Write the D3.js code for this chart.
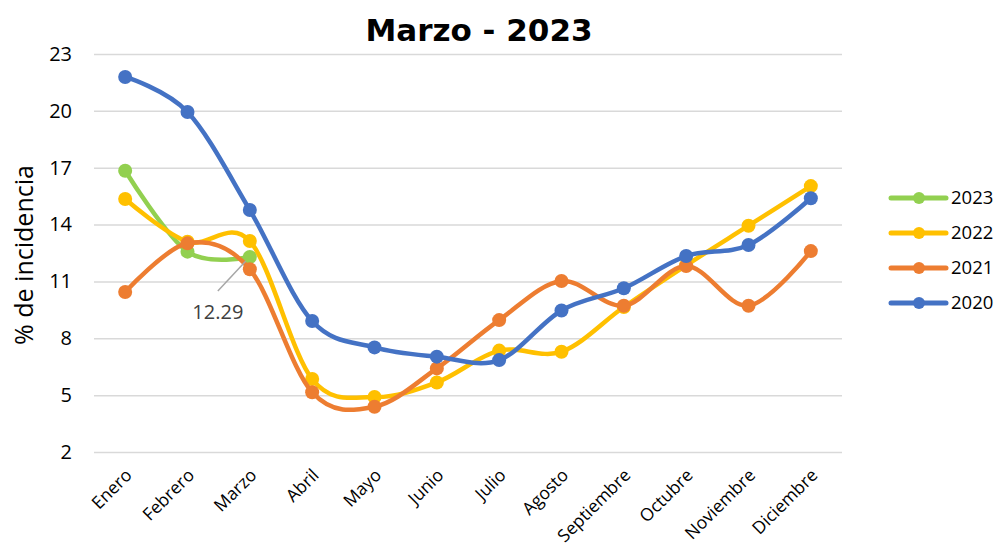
<!DOCTYPE html>
<html>
<head>
<meta charset="utf-8">
<script src="https://cdn.jsdelivr.net/npm/d3@7"></script>
<style>
  body { margin: 0; background: #fff; }
  svg { display: block; font-family: "Open Sans", sans-serif; }
</style>
</head>
<body>
<script>
// chart data
const months = ["Enero", "Febrero", "Marzo", "Abril", "Mayo", "Junio", "Julio",
  "Agosto", "Septiembre", "Octubre", "Noviembre", "Diciembre"];
const v2023 = [16.84, 12.57, 12.29];
const v2022 = [15.35, 13.10, 13.13, 5.85, 4.90, 5.67, 7.35, 7.29, 9.65, 11.85, 13.94, 16.03];
const v2021 = [10.44, 13.01, 11.64, 5.15, 4.39, 6.41, 8.96, 11.02, 9.72, 11.81, 9.72, 12.60];
const v2020 = [21.79, 19.94, 14.77, 8.91, 7.52, 7.03, 6.85, 9.47, 10.64, 12.34, 12.92, 15.39];
const yTicks = [2, 5, 8, 11, 14, 17, 20, 23];
const seriesNames = ["2023", "2022", "2021", "2020"];
const labelValue = 12.29;

// layout
const width = 995;
const height = 549;
const plotLeft = 94;
const plotRight = 842;
const plotTop = 54;
const plotBottom = 452;

const colors = {"2023": "#92D050", "2022": "#FFC000", "2021": "#ED7D31", "2020": "#4472C4"};
const values = {"2023": v2023, "2022": v2022, "2021": v2021, "2020": v2020};

const svg = d3.select("body").append("svg")
  .attr("width", width)
  .attr("height", height);

const xScale = d3.scalePoint().domain(months).range([plotLeft, plotRight]).padding(0.5);
const yScale = d3.scaleLinear().domain([2, 23]).range([plotBottom, plotTop]);

// gridlines + y tick labels
const yAxis = svg.append("g")
  .attr("transform", "translate(" + plotLeft + ",0)")
  .call(d3.axisLeft(yScale).tickValues(yTicks).tickSize(-(plotRight - plotLeft)).tickPadding(22));
yAxis.select(".domain").remove();
yAxis.selectAll(".tick line").attr("stroke", "#d9d9d9").attr("stroke-width", 1.5);
yAxis.selectAll(".tick text")
  .attr("font-family", "Open Sans, sans-serif")
  .attr("font-size", 20)
  .attr("fill", "#000");

// x labels
const xAxis = svg.append("g")
  .attr("transform", "translate(0," + plotBottom + ")")
  .call(d3.axisBottom(xScale).tickSize(0));
xAxis.select(".domain").remove();
xAxis.selectAll(".tick text")
  .attr("font-family", "Open Sans, sans-serif")
  .attr("font-size", 17.5)
  .attr("fill", "#000")
  .attr("text-anchor", "end")
  .attr("y", 0)
  .attr("dy", "0.35em")
  .attr("transform", "translate(3,20) rotate(-45)");

// title
svg.append("text")
  .attr("x", 479)
  .attr("y", 41)
  .attr("text-anchor", "middle")
  .attr("font-family", "DejaVu Sans, sans-serif")
  .attr("font-weight", "bold")
  .attr("font-size", 31)
  .attr("fill", "#000")
  .text("Marzo - 2023");

// y axis title
svg.append("text")
  .attr("transform", "translate(33,255) rotate(-90)")
  .attr("text-anchor", "middle")
  .attr("font-size", 25)
  .attr("fill", "#000")
  .text("% de incidencia");

// lines
const line = d3.line()
  .x(function(d, i) { return xScale(months[i]); })
  .y(function(d) { return yScale(d); })
  .curve(d3.curveCatmullRom.alpha(0));

seriesNames.forEach(function(name) {
  const g = svg.append("g");
  g.append("path")
    .attr("d", line(values[name]))
    .attr("fill", "none")
    .attr("stroke", colors[name])
    .attr("stroke-width", 4.5)
    .attr("stroke-linecap", "round");
  g.selectAll("circle")
    .data(values[name])
    .enter()
    .append("circle")
    .attr("cx", function(d, i) { return xScale(months[i]); })
    .attr("cy", function(d) { return yScale(d); })
    .attr("r", 7)
    .attr("fill", colors[name]);
});

// data label for Marzo 2023
const lx = xScale("Marzo");
const ly = yScale(labelValue);
svg.append("line")
  .attr("x1", lx - 4)
  .attr("y1", ly + 4)
  .attr("x2", lx - 32)
  .attr("y2", ly + 34)
  .attr("stroke", "#a6a6a6")
  .attr("stroke-width", 1.5);
svg.append("text")
  .attr("x", lx - 32)
  .attr("y", ly + 62)
  .attr("text-anchor", "middle")
  .attr("font-size", 20)
  .attr("fill", "#404040")
  .text(labelValue.toFixed(2));

// legend
const legend = svg.selectAll(".legend")
  .data(seriesNames)
  .enter()
  .append("g")
  .attr("class", "legend")
  .attr("transform", function(d, i) { return "translate(891," + (198 + i * 35) + ")"; });
legend.append("line")
  .attr("x1", 0).attr("x2", 55)
  .attr("stroke", function(d) { return colors[d]; })
  .attr("stroke-width", 5)
  .attr("stroke-linecap", "round");
legend.append("circle")
  .attr("cx", 28)
  .attr("r", 6)
  .attr("fill", function(d) { return colors[d]; });
legend.append("text")
  .attr("x", 60)
  .attr("dy", "0.35em")
  .attr("font-size", 18.5)
  .attr("fill", "#000")
  .text(function(d) { return d; });
</script>
</body>
</html>
